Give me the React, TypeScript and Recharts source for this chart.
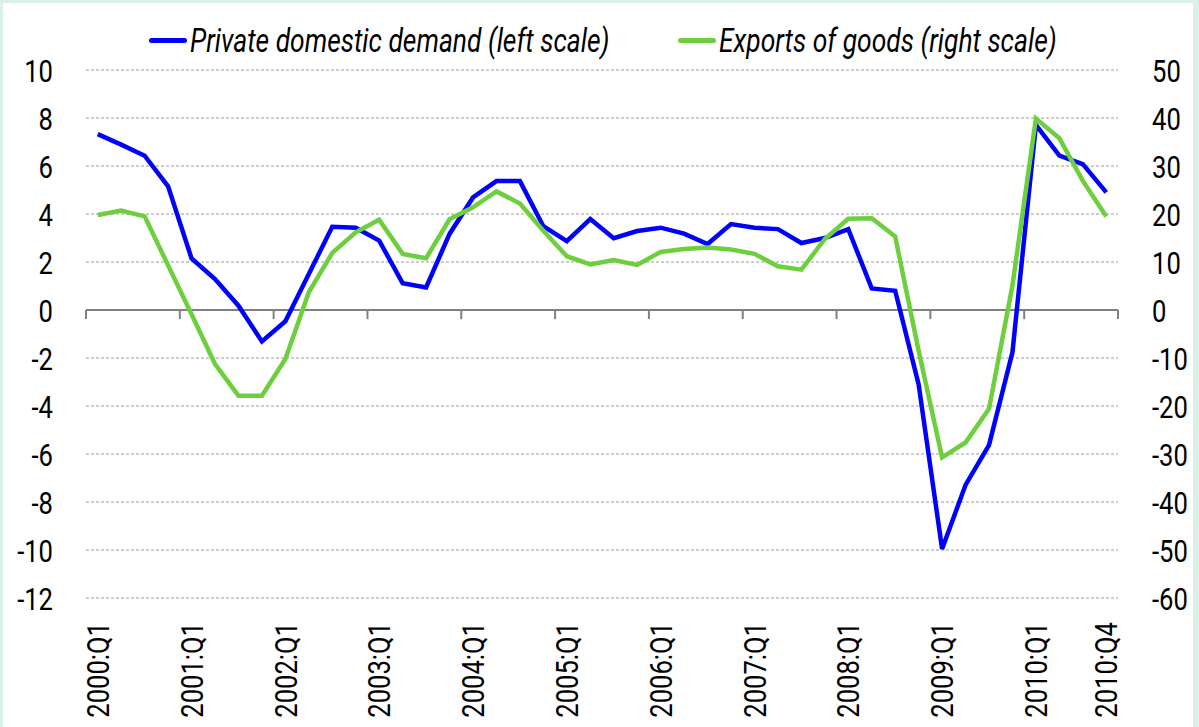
import React from 'react';
import { LineChart, Line, XAxis, YAxis, CartesianGrid, ReferenceLine } from 'recharts';

const years = [2000, 2001, 2002, 2003, 2004, 2005, 2006, 2007, 2008, 2009, 2010];
const quarters: string[] = [];
years.forEach((y) => [1, 2, 3, 4].forEach((q) => quarters.push(`${y}:Q${q}`)));

// Private domestic demand, left scale
const privateDemand = [
    7.33, 6.89, 6.43, 5.15, 2.15, 1.29, 0.18, -1.31, -0.47, 1.5, 3.47, 3.43,
    2.89, 1.12, 0.94, 3.17, 4.69, 5.37, 5.37, 3.49, 2.87, 3.79, 2.99, 3.29,
    3.43, 3.18, 2.75, 3.58, 3.43, 3.37, 2.79, 3.0, 3.37, 0.9, 0.8, -3.1,
    -9.96, -7.29, -5.63, -1.76, 7.71, 6.43, 6.08, 4.9,
];

// Exports of goods, right scale
const exportsGoods = [
    19.8, 20.7, 19.5, 9.3, -0.9, -11.25, -17.85, -17.85, -10.2, 3.7, 11.9, 16.2,
    18.8, 11.7, 10.8, 18.9, 21.4, 24.7, 22.2, 16.5, 11.2, 9.5, 10.4, 9.4,
    12.1, 12.7, 13.0, 12.6, 11.7, 9.1, 8.4, 14.8, 19.0, 19.1, 15.3, -8.5,
    -30.7, -27.6, -20.6, 5.1, 39.9, 35.8, 26.9, 19.5,
];

const leftTicks = [-12, -10, -8, -6, -4, -2, 0, 2, 4, 6, 8, 10];
const rightTicks = [-60, -50, -40, -30, -20, -10, 0, 10, 20, 30, 40, 50];

const labelIdx = quarters
    .map((q, i) => (q.endsWith('Q1') || i === quarters.length - 1 ? i : -1))
    .filter((i) => i >= 0);
const yearBounds = [
    ...quarters.map((q, i) => (q.endsWith('Q1') ? i - 0.5 : null)).filter((v) => v !== null),
    quarters.length - 0.5,
] as number[];

const data = quarters.map((q, i) => ({
    idx: i,
    quarter: q,
    pdd: privateDemand[i],
    exp: exportsGoods[i],
}));

const FONT = "Roboto, 'Liberation Sans', sans-serif";
const SQUEEZE = 0.8; // no condensed face installed, so squash Roboto
const BLUE = '#0000ff';
const GREEN = '#6dcf3e';

const QuarterTick = ({ x, y, payload }: any) => (
    <text
        transform={`translate(${x},${y}) rotate(-90) scale(${SQUEEZE},1)`}
        textAnchor="end"
        dy="0.35em"
        fontFamily={FONT}
        fontSize={32}
        fill="#000"
    >
        {quarters[payload.value]}
    </text>
);

const ValueTick = ({ x, y, payload, anchor }: any) => (
    <text
        transform={`translate(${x},${y}) scale(${SQUEEZE},1)`}
        textAnchor={anchor}
        dy="0.36em"
        fontFamily={FONT}
        fontSize={32}
        fill="#000"
    >
        {payload.value}
    </text>
);

const legendItems = [
    { name: 'Private domestic demand (left scale)', color: BLUE, left: 149 },
    { name: 'Exports of goods (right scale)', color: GREEN, left: 678 },
];

export default function App() {
    return (
        <div
            style={{
                position: 'absolute',
                left: 0,
                top: 0,
                width: 1199,
                height: 727,
                background: '#daf1e9',
                overflow: 'hidden',
            }}
        >
            <div
                style={{
                    position: 'absolute',
                    left: 3,
                    top: 3,
                    width: 1190,
                    height: 730,
                    background: '#fff',
                }}
            />
            {legendItems.map((s) => (
                <div
                    key={s.name}
                    style={{
                        position: 'absolute',
                        left: s.left,
                        top: 20,
                        height: 40,
                        display: 'flex',
                        alignItems: 'center',
                        fontFamily: FONT,
                        fontStyle: 'italic',
                        fontSize: 33,
                        whiteSpace: 'nowrap',
                        color: '#000',
                    }}
                >
                    <span
                        style={{
                            display: 'inline-block',
                            width: 38,
                            height: 5,
                            borderRadius: 3,
                            background: s.color,
                            marginRight: 3,
                        }}
                    />
                    <span style={{ display: 'inline-block', transform: `scaleX(${SQUEEZE})`, transformOrigin: 'left center' }}>
                        {s.name}
                    </span>
                </div>
            ))}
            <div style={{ position: 'absolute', left: 0, top: 0 }}>
                <LineChart
                    width={1199}
                    height={727}
                    data={data}
                    margin={{ top: 70, right: 0, bottom: 0, left: 0 }}
                >
                    <CartesianGrid
                        vertical={false}
                        yAxisId="left"
                        stroke="#9a9a9a"
                        strokeDasharray="3 2"
                    />
                    <XAxis
                        dataKey="idx"
                        type="number"
                        domain={[-0.5, quarters.length - 0.5]}
                        ticks={labelIdx}
                        interval={0}
                        axisLine={false}
                        tickLine={false}
                        tickSize={0}
                        tickMargin={24}
                        height={129}
                        tick={<QuarterTick />}
                    />
                    <YAxis
                        yAxisId="left"
                        domain={[-12, 10]}
                        ticks={leftTicks}
                        interval={0}
                        width={86}
                        axisLine={false}
                        tickLine={false}
                        tickSize={0}
                        tickMargin={33}
                        tick={<ValueTick anchor="end" />}
                    />
                    <YAxis
                        yAxisId="right"
                        orientation="right"
                        domain={[-60, 50]}
                        ticks={rightTicks}
                        interval={0}
                        width={81}
                        axisLine={false}
                        tickLine={false}
                        tickSize={0}
                        tickMargin={34}
                        tick={<ValueTick anchor="start" />}
                    />
                    <ReferenceLine yAxisId="left" y={0} stroke="#808080" strokeWidth={2} />
                    {yearBounds.map((b) => (
                        <ReferenceLine
                            key={b}
                            yAxisId="left"
                            segment={[
                                { x: b, y: 0 },
                                { x: b, y: -0.38 },
                            ]}
                            stroke="#808080"
                            strokeWidth={2}
                        />
                    ))}
                    <Line
                        yAxisId="left"
                        type="linear"
                        dataKey="pdd"
                        stroke={BLUE}
                        strokeWidth={4.5}
                        dot={false}
                        isAnimationActive={false}
                    />
                    <Line
                        yAxisId="right"
                        type="linear"
                        dataKey="exp"
                        stroke={GREEN}
                        strokeWidth={4.5}
                        dot={false}
                        isAnimationActive={false}
                    />
                </LineChart>
            </div>
        </div>
    );
}
